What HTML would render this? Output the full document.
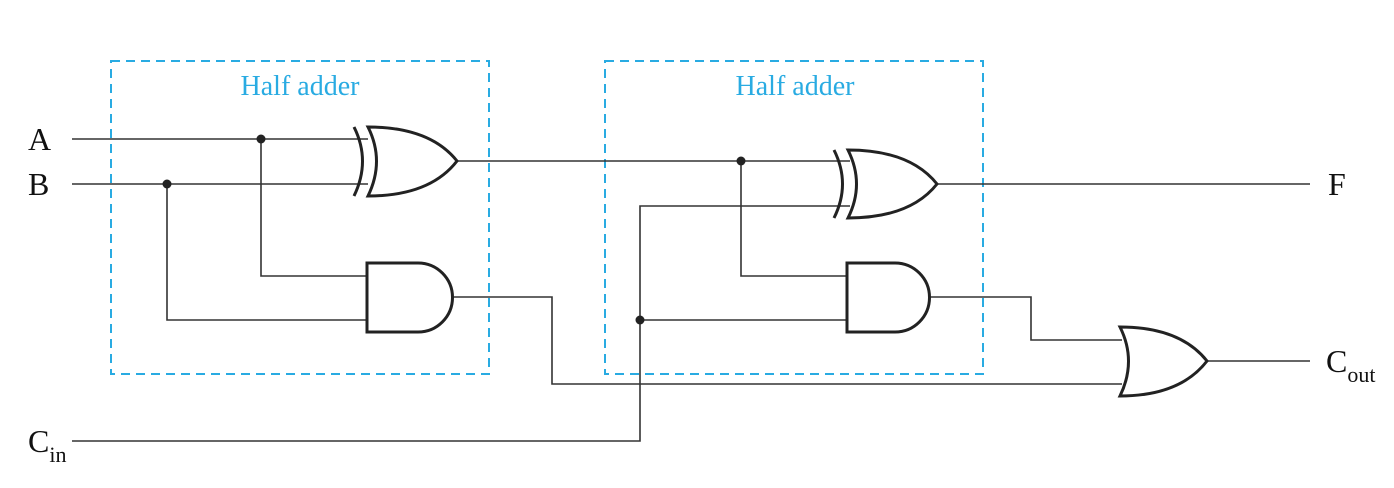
<!DOCTYPE html>
<html><head><meta charset="utf-8"><style>
html,body{margin:0;padding:0;background:#fff;}
svg{display:block;}
text{font-family:"Liberation Serif",serif;fill:#111;}
.w{stroke:#333;stroke-width:1.6;fill:none;}
.g{stroke:#222;stroke-width:3;fill:#fff;}
.box{stroke:#29abe2;stroke-width:2;fill:none;stroke-dasharray:9,6;}
.lbl{fill:#29abe2;font-size:28px;}
</style></head><body>
<svg width="1394" height="488" viewBox="0 0 1394 488">
<rect class="box" x="111" y="61" width="378" height="313"/>
<rect class="box" x="605" y="61" width="378" height="313"/>
<text class="lbl" x="300" y="95" text-anchor="middle">Half adder</text>
<text class="lbl" x="795" y="95" text-anchor="middle">Half adder</text>
<g>
<path class="w" d="M72 139H368"/>
<path class="w" d="M72 184H368"/>
<path class="w" d="M261 139V276H367"/>
<path class="w" d="M167 184V320H367"/>
<path class="w" d="M450 297H552V384H1122"/>
<path class="w" d="M457 161H850"/>
<path class="w" d="M741 161V276H847"/>
<path class="w" d="M72 441H640V206H850"/>
<path class="w" d="M640 320H847"/>
<path class="w" d="M937 184H1310"/>
<path class="w" d="M928 297H1031V340H1122"/>
<path class="w" d="M1207 361H1310"/>
</g>
<g>
<circle cx="261" cy="139" r="4.5" fill="#222"/>
<circle cx="167" cy="184" r="4.5" fill="#222"/>
<circle cx="741" cy="161" r="4.5" fill="#222"/>
<circle cx="640" cy="320" r="4.5" fill="#222"/>
</g>
<g>
<path class="g" d="M368 127 Q385 161 368 196 Q430 196 457 161 Q430 127 368 127Z"/>
<path class="g" style="fill:none" d="M354 127 Q371 161 354 196"/>
</g>
<g>
<path class="g" d="M848 150 Q865 184 848 218 Q910 218 937 184 Q910 150 848 150Z"/>
<path class="g" style="fill:none" d="M834 150 Q851 184 834 218"/>
</g>
<path class="g" d="M367 263H418A34.5 34.5 0 0 1 418 332H367Z"/>
<path class="g" d="M847 263H895A34.5 34.5 0 0 1 895 332H847Z"/>
<path class="g" d="M1120 327 Q1137 361 1120 396 Q1180 396 1207 361 Q1180 327 1120 327Z"/>
<text x="28" y="150" font-size="32">A</text>
<text x="28" y="195" font-size="32">B</text>
<text x="28" y="452" font-size="32">C<tspan font-size="22" dy="10">in</tspan></text>
<text x="1328" y="195" font-size="32">F</text>
<text x="1326" y="372" font-size="32">C<tspan font-size="22" dy="10">out</tspan></text>
</svg>
</body></html>
